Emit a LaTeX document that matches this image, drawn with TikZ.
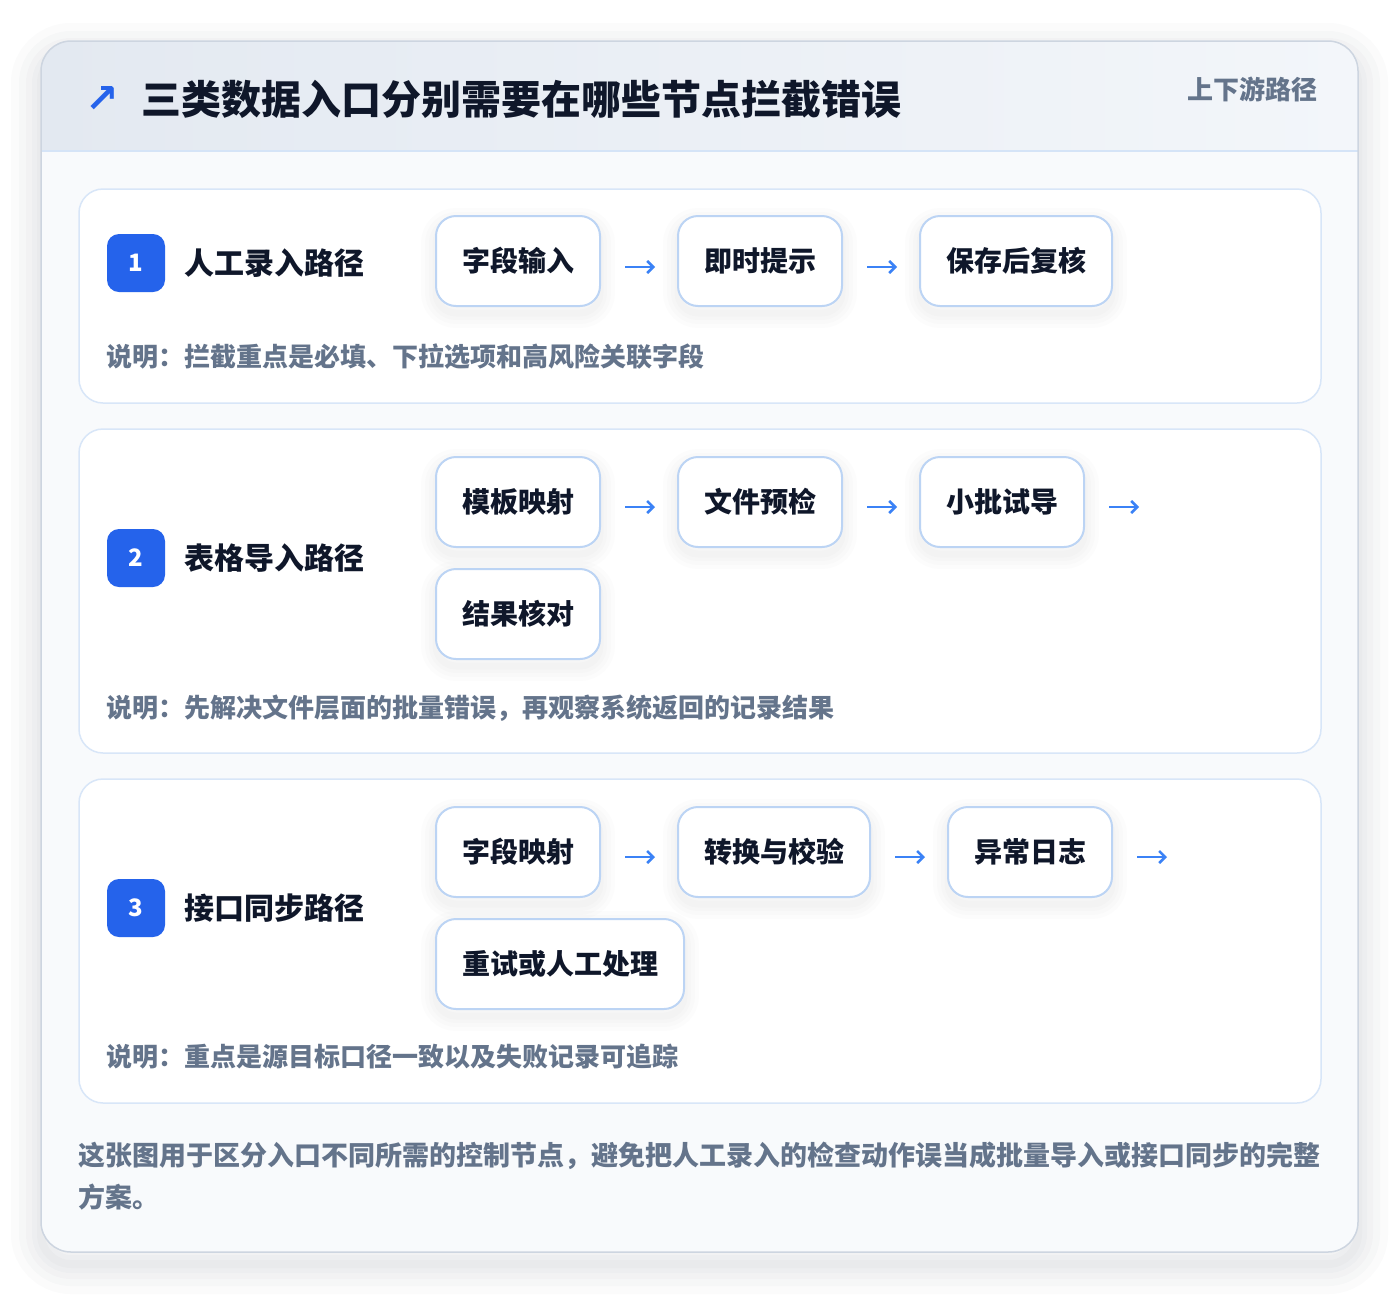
\documentclass[tikz,border=0pt]{standalone}
\usepackage{fontspec}
\setmainfont{Noto Sans CJK SC}
\newfontfamily\symfont{DejaVu Sans}
\usetikzlibrary{positioning, arrows.meta}
\definecolor{brand}{HTML}{2563EB}
\definecolor{flowblue}{HTML}{3B82F6}
\definecolor{ink}{HTML}{0F172A}
\definecolor{slate}{HTML}{64748B}
\definecolor{cardline}{HTML}{CDD5E0}
\definecolor{cardfill}{HTML}{F8FAFC}
\definecolor{headleft}{HTML}{E3E9F1}
\definecolor{headright}{HTML}{F3F6FA}
\definecolor{headline}{HTML}{D5E4F7}
\definecolor{panelline}{HTML}{D8E6F8}
\definecolor{boxline}{HTML}{BCD4F4}
\definecolor{shadowc}{HTML}{1E293B}
\tikzset{
  soft/.style={preaction={draw=shadowc, draw opacity=0.012, line width=#1, transform canvas={yshift=-7pt}}},
  halo/.style={soft=30pt, soft=22pt, soft=14pt, soft=7pt},
  bighalo/.style={preaction={draw=shadowc, draw opacity=0.018, line width=#1, transform canvas={yshift=-12pt}}},
}
\tikzstyle{panel} = [draw=panelline, fill=white, rounded corners=24pt, line width=1.5pt]
\tikzstyle{block} = [draw=boxline, fill=white, rectangle, rounded corners=20pt, line width=2pt,
  minimum height=90pt, inner xsep=26pt, text=ink, font=\fontsize{28}{28}\selectfont\bfseries, halo]
\tikzstyle{badge} = [fill=brand, rounded corners=12pt, minimum size=58pt, inner sep=0pt,
  text=white, font=\fontsize{24}{24}\selectfont\bfseries]
\tikzstyle{pathname} = [text=ink, inner sep=0pt, font=\fontsize{30}{30}\selectfont\bfseries]
\tikzstyle{note} = [text=slate, inner sep=0pt, anchor=west, font=\fontsize{26}{26}\selectfont\bfseries]
\tikzstyle{flow} = [->, draw=flowblue, line width=2.6pt]
\newcommand{\step}[1]{\mbox{#1}}

\begin{document}
\begin{tikzpicture}[x=1pt, y=-1pt, >={Straight Barb[length=6pt,width=12pt]}, node distance=76pt]
  \useasboundingbox (0,0) rectangle (1400,1294);
  % card and header
  \fill[white, rounded corners=30pt, bighalo=60pt, bighalo=44pt, bighalo=30pt, bighalo=18pt, bighalo=8pt]
    (41,41) rectangle (1358,1252);
  \begin{scope}
    \clip[rounded corners=30pt] (41,41) rectangle (1358,1252);
    \fill[cardfill] (41,41) rectangle (1358,1252);
    \shade[left color=headleft, right color=headright] (41,41) rectangle (1358,151);
    \draw[headline, line width=1.5pt] (41,151) -- (1358,151);
  \end{scope}
  \draw[cardline, line width=1.5pt, rounded corners=30pt] (41,41) rectangle (1358,1252);
  \node[text=brand, inner sep=0pt, font=\symfont\bfseries\fontsize{40}{40}\selectfont] (icon) at (102,99) {↗};
  \node[anchor=west, text=ink, inner sep=0pt, font=\fontsize{40}{40}\selectfont\bfseries] (title) at (141,99)
    {三类数据入口分别需要在哪些节点拦截错误};
  \node[anchor=east, text=slate, inner sep=0pt, font=\fontsize{26}{26}\selectfont\bfseries] (tag) at (1318,89)
    {上下游路径};

  % path 1
  \draw[panel] (79,189) rectangle (1321,403);
  \node[badge] (b1) at (136,263) {1};
  \node[pathname, right=19pt of b1] (l1) {人工录入路径};
  \node[block] (s1a) at (518,261) {\step{字段输入}};
  \node[block, right=of s1a] (s1b) {\step{即时提示}};
  \node[block, right=of s1b] (s1c) {\step{保存后复核}};
  \draw[flow] ([shift={(24,6)}]s1a.east) -- ([shift={(-22,6)}]s1b.west);
  \draw[flow] ([shift={(24,6)}]s1b.east) -- ([shift={(-22,6)}]s1c.west);
  \node[note] (n1) at (106,357) {说明：拦截重点是必填、下拉选项和高风险关联字段};

  % path 2
  \draw[panel] (79,429) rectangle (1321,753);
  \node[badge] (b2) at (136,558) {2};
  \node[pathname, right=19pt of b2] (l2) {表格导入路径};
  \node[block] (s2a) at (518,502) {\step{模板映射}};
  \node[block, right=of s2a] (s2b) {\step{文件预检}};
  \node[block, right=of s2b] (s2c) {\step{小批试导}};
  \node[block, below right=20pt and 0pt of s2a.south west] (s2d) {\step{结果核对}};
  \coordinate[right=of s2c] (t2);
  \draw[flow] ([shift={(24,5)}]s2a.east) -- ([shift={(-22,5)}]s2b.west);
  \draw[flow] ([shift={(24,5)}]s2b.east) -- ([shift={(-22,5)}]s2c.west);
  \draw[flow] ([shift={(24,5)}]s2c.east) -- ([shift={(-22,5)}]t2);
  \node[note] (n2) at (106,708) {说明：先解决文件层面的批量错误，再观察系统返回的记录结果};

  % path 3
  \draw[panel] (79,779) rectangle (1321,1103);
  \node[badge] (b3) at (136,908) {3};
  \node[pathname, right=19pt of b3] (l3) {接口同步路径};
  \node[block] (s3a) at (518,852) {\step{字段映射}};
  \node[block, right=of s3a] (s3b) {\step{转换与校验}};
  \node[block, right=of s3b] (s3c) {\step{异常日志}};
  \node[block, below right=20pt and 0pt of s3a.south west] (s3d) {\step{重试或人工处理}};
  \coordinate[right=of s3c] (t3);
  \draw[flow] ([shift={(24,5)}]s3a.east) -- ([shift={(-22,5)}]s3b.west);
  \draw[flow] ([shift={(24,5)}]s3b.east) -- ([shift={(-22,5)}]s3c.west);
  \draw[flow] ([shift={(24,5)}]s3c.east) -- ([shift={(-22,5)}]t3);
  \node[note] (n3) at (106,1057) {说明：重点是源目标口径一致以及失败记录可追踪};

  % footer
  \node[anchor=west, align=left, text=slate, inner sep=0pt, font=\fontsize{27}{42}\selectfont\bfseries] (foot) at (78,1176)
    {这张图用于区分入口不同所需的控制节点，避免把人工录入的检查动作误当成批量导入或接口同步的完整\\方案。};
\end{tikzpicture}
\end{document}
